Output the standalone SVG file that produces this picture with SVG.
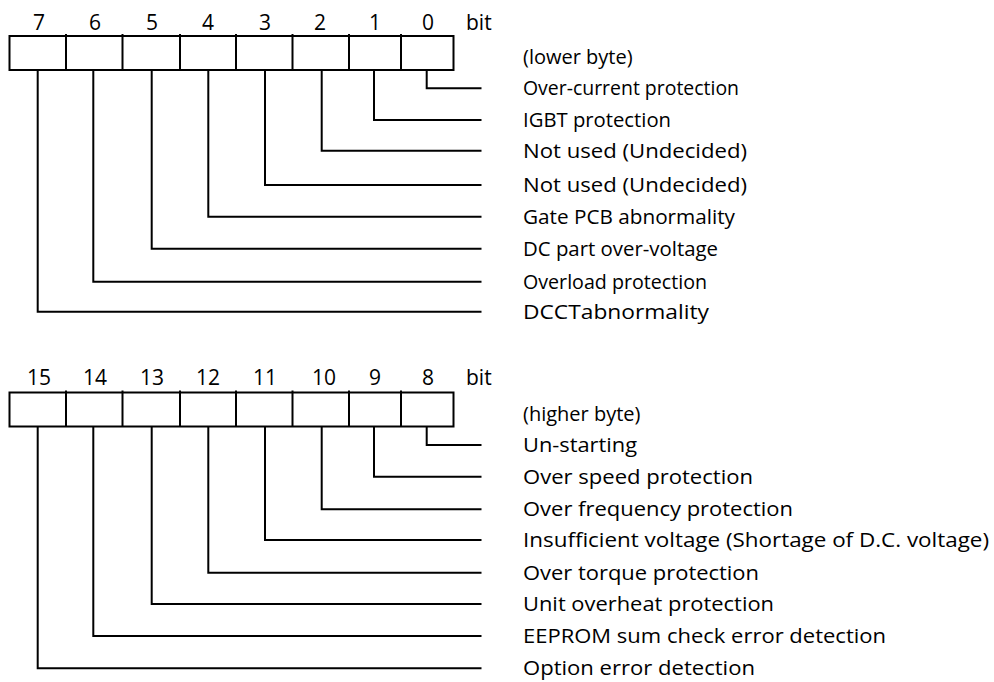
<svg xmlns="http://www.w3.org/2000/svg" width="994" height="682" viewBox="0 0 994 682">
<style>
.box{fill:#fff;stroke:#000;stroke-width:2}
.div{stroke:#000;stroke-width:2}
.con{fill:none;stroke:#000;stroke-width:2}
.num{font-family:"Open Sans","Noto Sans",sans-serif;font-size:21px;fill:#000;text-anchor:middle}
.bit{font-family:"Open Sans","Noto Sans",sans-serif;font-size:21px;fill:#000}
.lbl{font-family:"Open Sans","Noto Sans",sans-serif;font-size:20px;fill:#000}
</style>
<rect width="994" height="682" fill="#fff"/>
<g id="lower-register">
<rect class="box" x="9.5" y="36" width="444" height="34"/>
<path class="div" d="M66 34V70M122.5 34V70M180 34V70M236 34V70M292.5 34V70M349 34V70M401 34V70"/>
<text class="num" x="39" y="30">7</text>
<text class="num" x="95" y="30">6</text>
<text class="num" x="152" y="30">5</text>
<text class="num" x="208" y="30">4</text>
<text class="num" x="265" y="30">3</text>
<text class="num" x="320" y="30">2</text>
<text class="num" x="375" y="30">1</text>
<text class="num" x="428" y="30">0</text>
<text class="bit" x="466" y="30">bit</text>
<text class="lbl" x="523" y="64">(lower byte)</text>
</g>
<g id="higher-register">
<rect class="box" x="9.5" y="392.5" width="444" height="34"/>
<path class="div" d="M66 390.5V426.5M122.5 390.5V426.5M180 390.5V426.5M236 390.5V426.5M292.5 390.5V426.5M349 390.5V426.5M401 390.5V426.5"/>
<text class="num" x="39" y="385">15</text>
<text class="num" x="95" y="385">14</text>
<text class="num" x="152" y="385">13</text>
<text class="num" x="208" y="385">12</text>
<text class="num" x="265" y="385">11</text>
<text class="num" x="324" y="385">10</text>
<text class="num" x="375" y="385">9</text>
<text class="num" x="428" y="385">8</text>
<text class="bit" x="466" y="385">bit</text>
<text class="lbl" x="523" y="421">(higher byte)</text>
</g>
<g id="connectors">
<path class="con" d="M426.7 70V88.3H481.5"/>
<path class="con" d="M374 70V120H481.5"/>
<path class="con" d="M321.7 70V150.7H481.5"/>
<path class="con" d="M265 70V185H481.5"/>
<path class="con" d="M208.3 70V216.7H481.5"/>
<path class="con" d="M151.7 70V248.7H481.5"/>
<path class="con" d="M93.3 70V281.7H481.5"/>
<path class="con" d="M37.7 70V311.7H481.5"/>
<path class="con" d="M426.7 426.5V445H481.5"/>
<path class="con" d="M374 426.5V476.7H481.5"/>
<path class="con" d="M321.7 426.5V509.3H481.5"/>
<path class="con" d="M265 426.5V540H481.5"/>
<path class="con" d="M208.3 426.5V572.7H481.5"/>
<path class="con" d="M151.7 426.5V604H481.5"/>
<path class="con" d="M93.3 426.5V636H481.5"/>
<path class="con" d="M37.7 426.5V668.3H481.5"/>
</g>
<g id="bit0"><text class="lbl" x="523" y="95.3" textLength="216" lengthAdjust="spacingAndGlyphs">Over-current protection</text></g>
<g id="bit1"><text class="lbl" x="523" y="127" textLength="148" lengthAdjust="spacingAndGlyphs">IGBT protection</text></g>
<g id="bit2"><text class="lbl" x="523" y="157.7" textLength="224" lengthAdjust="spacingAndGlyphs">Not used (Undecided)</text></g>
<g id="bit3"><text class="lbl" x="523" y="192" textLength="224" lengthAdjust="spacingAndGlyphs">Not used (Undecided)</text></g>
<g id="bit4"><text class="lbl" x="523" y="223.7" textLength="212" lengthAdjust="spacingAndGlyphs">Gate PCB abnormality</text></g>
<g id="bit5"><text class="lbl" x="523" y="255.7" textLength="195" lengthAdjust="spacingAndGlyphs">DC part over-voltage</text></g>
<g id="bit6"><text class="lbl" x="523" y="288.7" textLength="184" lengthAdjust="spacingAndGlyphs">Overload protection</text></g>
<g id="bit7"><text class="lbl" x="523" y="318.7" textLength="186" lengthAdjust="spacingAndGlyphs">DCCTabnormality</text></g>
<g id="bit8"><text class="lbl" x="523" y="452" textLength="114" lengthAdjust="spacingAndGlyphs">Un-starting</text></g>
<g id="bit9"><text class="lbl" x="523" y="483.7" textLength="230" lengthAdjust="spacingAndGlyphs">Over speed protection</text></g>
<g id="bit10"><text class="lbl" x="523" y="516.3" textLength="270" lengthAdjust="spacingAndGlyphs">Over frequency protection</text></g>
<g id="bit11"><text class="lbl" x="523" y="547" textLength="466" lengthAdjust="spacingAndGlyphs">Insufficient voltage (Shortage of D.C. voltage)</text></g>
<g id="bit12"><text class="lbl" x="523" y="579.7" textLength="236" lengthAdjust="spacingAndGlyphs">Over torque protection</text></g>
<g id="bit13"><text class="lbl" x="523" y="611" textLength="251" lengthAdjust="spacingAndGlyphs">Unit overheat protection</text></g>
<g id="bit14"><text class="lbl" x="523" y="643" textLength="363" lengthAdjust="spacingAndGlyphs">EEPROM sum check error detection</text></g>
<g id="bit15"><text class="lbl" x="523" y="675.3" textLength="232" lengthAdjust="spacingAndGlyphs">Option error detection</text></g>
</svg>
